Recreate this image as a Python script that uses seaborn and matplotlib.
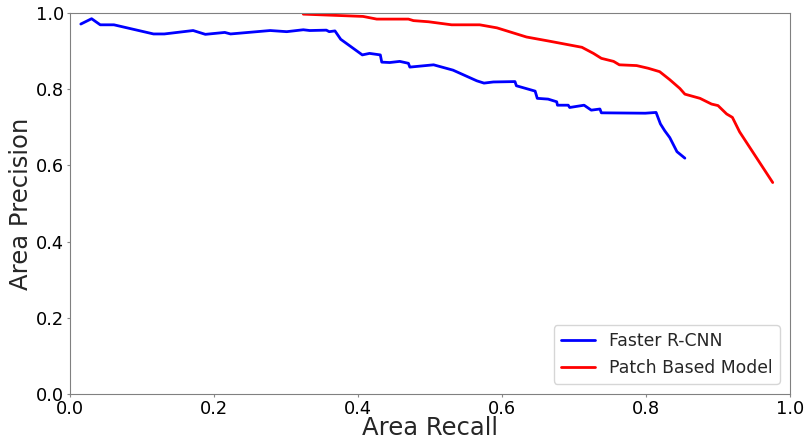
import matplotlib
matplotlib.use("Agg")
import matplotlib.pyplot as plt
import seaborn as sns
import pandas as pd

frcnn_recall = [0.015, 0.030, 0.042, 0.061, 0.116, 0.131, 0.171, 0.188, 0.215, 0.223, 0.278, 0.301,
                0.324, 0.333, 0.356, 0.360, 0.368, 0.376, 0.406, 0.416, 0.431, 0.433, 0.444, 0.458,
                0.470, 0.472, 0.505, 0.532, 0.565, 0.575, 0.588, 0.618, 0.620, 0.646, 0.649, 0.664,
                0.676, 0.677, 0.692, 0.694, 0.714, 0.724, 0.736, 0.738, 0.799, 0.814, 0.820, 0.826,
                0.833, 0.843, 0.854]
frcnn_precision = [0.971, 0.985, 0.969, 0.969, 0.945, 0.945, 0.954, 0.944, 0.949, 0.945, 0.954, 0.951,
                   0.956, 0.954, 0.955, 0.951, 0.953, 0.931, 0.890, 0.894, 0.890, 0.871, 0.870, 0.873,
                   0.868, 0.858, 0.864, 0.850, 0.822, 0.816, 0.819, 0.820, 0.809, 0.795, 0.776, 0.774,
                   0.767, 0.758, 0.758, 0.752, 0.758, 0.745, 0.748, 0.738, 0.737, 0.739, 0.709, 0.691,
                   0.673, 0.636, 0.619]

patch_recall = [0.324, 0.407, 0.426, 0.470, 0.477, 0.498, 0.530, 0.569, 0.593, 0.634, 0.666, 0.711,
                0.727, 0.738, 0.755, 0.763, 0.787, 0.803, 0.819, 0.833, 0.847, 0.854, 0.875, 0.891,
                0.900, 0.912, 0.920, 0.930, 0.976]
patch_precision = [0.997, 0.991, 0.984, 0.984, 0.980, 0.977, 0.969, 0.969, 0.961, 0.937, 0.926, 0.910,
                   0.894, 0.881, 0.873, 0.864, 0.862, 0.855, 0.846, 0.825, 0.802, 0.787, 0.776, 0.761,
                   0.757, 0.735, 0.726, 0.688, 0.555]

series_names = ["Faster R-CNN", "Patch Based Model"]

df = pd.concat([
    pd.DataFrame({"recall": frcnn_recall, "precision": frcnn_precision, "model": series_names[0]}),
    pd.DataFrame({"recall": patch_recall, "precision": patch_precision, "model": series_names[1]}),
], ignore_index=True)

sns.set_style("ticks")
plt.rcParams["font.family"] = ["DejaVu Sans"]

fig = plt.figure(figsize=(8.05, 4.43), dpi=100)
ax = fig.add_axes([70/805, 1 - 394/443, 720/805, 381/443])
sns.lineplot(data=df, x="recall", y="precision", hue="model", sort=False,
             palette={series_names[0]: "#0000ff", series_names[1]: "#ff0000"},
             linewidth=2, ax=ax, estimator=None)
ax.set_xlim(0, 1)
ax.set_ylim(0, 1)
ax.set_xticks([0, 0.2, 0.4, 0.6, 0.8, 1.0])
ax.set_yticks([0, 0.2, 0.4, 0.6, 0.8, 1.0])
ax.tick_params(labelsize=12.8, color="#888888", length=2.5, pad=2, labelcolor="black")
ax.set_xlabel("Area Recall", fontsize=17.5)
ax.set_ylabel("Area Precision", fontsize=17.5)
ax.xaxis.set_label_coords(0.5, -0.058)
ax.yaxis.set_label_coords(-0.051, 0.5)
for s in ax.spines.values():
    s.set_color("#808080")
    s.set_visible(True)
leg = ax.legend(loc="lower right", fontsize=12.4, frameon=True, borderaxespad=0.6)
leg.set_title(None)
fig.savefig("out.png", dpi=100)
